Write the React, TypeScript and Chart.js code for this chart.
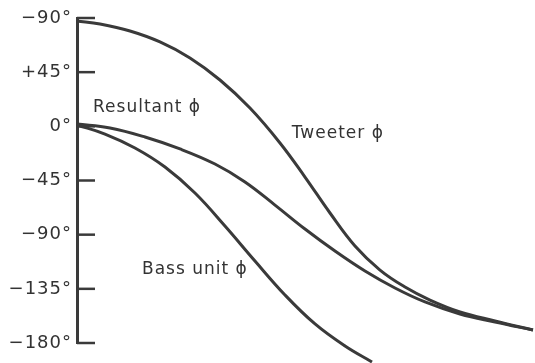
import React, { useEffect, useRef } from "react";
import { Chart, registerables } from "chart.js";

Chart.register(...registerables);

// Y axis (phase, degrees)
const TICK_VALUES = [90, 45, 0, -45, -90, -135, -180];
const TICK_LABELS = ["−90°", "+45°", "0°", "−45°", "−90°", "−135°", "−180°"];

// X axis: relative frequency (0..100, unlabelled)
const TWEETER_X = [0, 5.02, 11.57, 18.12, 24.67, 31.22, 37.77, 44.32, 49.78, 55.24, 60.7, 66.16, 71.62, 77.07, 83.62, 91.27, 99.56];
const TWEETER_Y = [87.5, 85.0, 79.2, 70.1, 56.8, 38.5, 15.2, -13.8, -42.1, -72.0, -99.4, -119.4, -133.5, -144.3, -154.2, -161.7, -169.2];

const RESULTANT_X = [0, 7.21, 14.85, 22.49, 30.13, 36.68, 43.23, 49.78, 56.33, 62.88, 69.43, 75.98, 83.62, 91.27, 99.56];
const RESULTANT_Y = [1.9, -1.4, -8.9, -18.8, -31.3, -46.2, -65.4, -85.3, -103.6, -120.2, -134.3, -145.9, -155.9, -162.6, -169.2];

const BASS_X = [0, 6.11, 12.66, 19.21, 25.76, 32.31, 38.86, 45.41, 51.97, 58.52, 64.41];
const BASS_Y = [1.1, -6.4, -18.0, -33.8, -55.4, -82.8, -111.9, -140.1, -164.2, -182.5, -195.8];

// Curve labels (anchored in data coordinates)
const LABEL_TEXTS = ["Resultant ϕ", "Tweeter ϕ", "Bass unit ϕ"];
const LABEL_X = [3.5, 46.9, 14.2];
const LABEL_Y = [15.7, -5.9, -118.9];

const INK = "#3a3a3a";
const TEXT = "#333333";
const FONT_FAMILY = '"DejaVu Sans", "Liberation Sans", sans-serif';

const toPoints = (xs: number[], ys: number[]) => xs.map((x, i) => ({ x, y: ys[i] }));

const overlay = {
  id: "overlay",
  beforeDraw(chart: any) {
    (chart.ctx as any).letterSpacing = "1px";
  },
  afterDatasetsDraw(chart: any) {
    const { ctx, chartArea, scales } = chart;
    const x = scales.x;
    const y = scales.y;
    ctx.save();
    ctx.strokeStyle = INK;
    ctx.lineWidth = 2.5;
    for (const v of TICK_VALUES) {
      const py = y.getPixelForValue(v);
      ctx.beginPath();
      ctx.moveTo(chartArea.left, py);
      ctx.lineTo(chartArea.left + 18, py);
      ctx.stroke();
    }
    ctx.fillStyle = TEXT;
    ctx.font = `17px ${FONT_FAMILY}`;
    (ctx as any).letterSpacing = "1px";
    ctx.textAlign = "left";
    ctx.textBaseline = "middle";
    LABEL_TEXTS.forEach((t, i) => {
      ctx.fillText(t, x.getPixelForValue(LABEL_X[i]), y.getPixelForValue(LABEL_Y[i]));
    });
    ctx.restore();
  },
};

export default function App() {
  const ref = useRef<HTMLCanvasElement>(null);

  useEffect(() => {
    if (!ref.current) return;
    const lineStyle = {
      borderColor: INK,
      borderWidth: 3,
      pointRadius: 0,
      fill: false,
      tension: 0.4,
      clip: false as any,
    };
    const chart = new Chart(ref.current, {
      type: "line",
      data: {
        datasets: [
          { label: "Tweeter ϕ", data: toPoints(TWEETER_X, TWEETER_Y), ...lineStyle },
          { label: "Resultant ϕ", data: toPoints(RESULTANT_X, RESULTANT_Y), ...lineStyle },
          { label: "Bass unit ϕ", data: toPoints(BASS_X, BASS_Y), ...lineStyle },
        ],
      },
      options: {
        animation: false,
        responsive: false,
        devicePixelRatio: 1,
        layout: { padding: { top: 18, bottom: 20, left: 0, right: 0 } },
        plugins: { legend: { display: false }, tooltip: { enabled: false } },
        scales: {
          x: { type: "linear", min: 0, max: 100, display: false },
          y: {
            type: "linear",
            min: -180,
            max: 90,
            afterBuildTicks: (scale: any) => {
              scale.ticks = TICK_VALUES.map((value) => ({ value }));
            },
            afterFit: (scale: any) => {
              scale.width = 77;
            },
            grid: { display: false, drawTicks: false },
            border: { display: true, color: INK, width: 3 },
            ticks: {
              padding: 5,
              color: TEXT,
              font: { family: FONT_FAMILY, size: 18 },
              callback: (value: any) => {
                const i = TICK_VALUES.indexOf(Number(value));
                return i >= 0 ? TICK_LABELS[i] : "";
              },
            },
          },
        },
      },
      plugins: [overlay],
    });
    return () => chart.destroy();
  }, []);

  return (
    <div style={{ position: "absolute", left: 0, top: 0, width: 535, height: 363, background: "#ffffff" }}>
      <canvas ref={ref} width={535} height={363} style={{ display: "block" }} />
    </div>
  );
}
